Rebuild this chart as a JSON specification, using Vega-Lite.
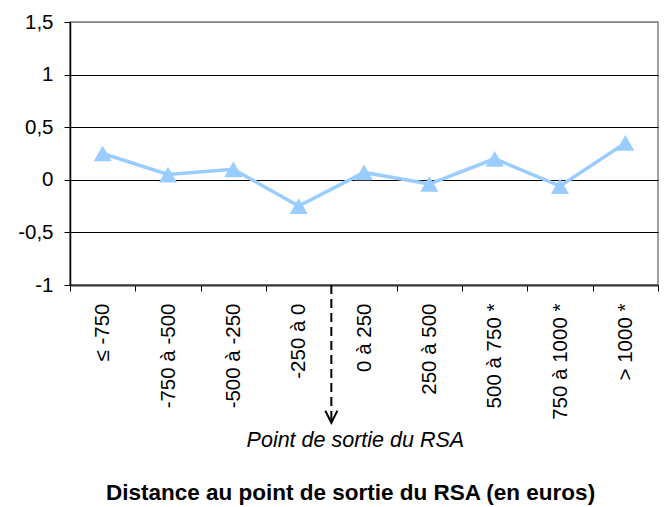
{
  "$schema": "https://vega.github.io/schema/vega-lite/v6.json",
  "autosize": {"type": "none"},
  "width": 588,
  "height": 263,
  "padding": {"left": 70, "top": 22, "right": 7, "bottom": 222},
  "background": "white",
  "config": {
    "view": {"stroke": "#808080", "strokeWidth": 1.5},
    "font": "Liberation Sans",
    "axis": {"labelFont": "Liberation Sans", "labelColor": "black", "tickColor": "black", "tickSize": 6, "titleFont": "Liberation Sans", "titleColor": "black"},
    "axisX": {"labelFontSize": 20.5, "labelPadding": 12, "labelAngle": 270, "domainColor": "#333333", "domainWidth": 2, "grid": false, "labelOverlap": false, "tickBand": "extent"},
    "axisY": {"labelFontSize": 20.5, "labelPadding": 11, "domainColor": "black", "domainWidth": 1.5, "grid": true, "gridWidth": 1.2, "gridColor": "black"}
  },
  "datasets": {
    "pts": [
      {"cat": "≤ -750", "val": 0.25},
      {"cat": "-750 à -500", "val": 0.05},
      {"cat": "-500 à -250", "val": 0.10},
      {"cat": "-250 à 0", "val": -0.25},
      {"cat": "0 à 250", "val": 0.07},
      {"cat": "250 à 500", "val": -0.04},
      {"cat": "500 à 750 *", "val": 0.20},
      {"cat": "750 à 1000 *", "val": -0.06},
      {"cat": "> 1000 *", "val": 0.35}
    ],
    "arrow": [
      {"cat": "0 à 250", "y1": -1, "y2": -2.31, "ty": -2.48, "label": "Point de sortie du RSA"}
    ]
  },
  "layer": [
    {
      "data": {"name": "pts"},
      "mark": {
        "type": "line",
        "color": "#99ccff",
        "strokeWidth": 3.5,
        "point": {"shape": "triangle-up", "size": 330, "filled": true, "color": "#99ccff", "opacity": 1}
      },
      "encoding": {
        "x": {
          "field": "cat",
          "type": "nominal",
          "sort": null,
          "scale": {
            "type": "band",
            "paddingInner": 0,
            "paddingOuter": 0,
            "domain": ["≤ -750", "-750 à -500", "-500 à -250", "-250 à 0", "0 à 250", "250 à 500", "500 à 750 *", "750 à 1000 *", "> 1000 *"]
          },
          "axis": {
            "title": "Distance au point de sortie du RSA (en euros)",
            "titleFontSize": 22.5,
            "titleFontWeight": "bold",
            "titleX": 280,
            "titleY": 214,
            "titleAlign": "center",
            "titleBaseline": "alphabetic"
          }
        },
        "y": {
          "field": "val",
          "type": "quantitative",
          "scale": {"domain": [-1, 1.5], "nice": false, "zero": false},
          "axis": {
            "title": null,
            "values": [-1, -0.5, 0, 0.5, 1, 1.5],
            "labelExpr": "replace(toString(datum.value), '.', ',')",
            "gridColor": {"condition": {"test": "datum.value == 1.5", "value": "#808080"}, "value": "black"}
          }
        }
      }
    },
    {
      "data": {"name": "arrow"},
      "mark": {"type": "rule", "strokeDash": [9, 5], "strokeWidth": 2, "color": "black", "clip": false},
      "encoding": {
        "x": {"field": "cat", "type": "nominal", "bandPosition": 0},
        "y": {"field": "y1", "type": "quantitative"},
        "y2": {"field": "y2"}
      }
    },
    {
      "data": {"name": "arrow"},
      "mark": {"type": "point", "shape": "M-1,-2L0,0L1,-2", "size": 144, "filled": false, "stroke": "black", "strokeWidth": 2, "opacity": 1, "clip": false},
      "encoding": {
        "x": {"field": "cat", "type": "nominal", "bandPosition": 0},
        "y": {"field": "y2", "type": "quantitative"}
      }
    },
    {
      "data": {"name": "arrow"},
      "mark": {"type": "text", "fontStyle": "italic", "fontSize": 21.5, "font": "Liberation Sans", "color": "black", "align": "center", "baseline": "middle", "dx": 24, "clip": false},
      "encoding": {
        "x": {"field": "cat", "type": "nominal", "bandPosition": 0},
        "y": {"field": "ty", "type": "quantitative"},
        "text": {"field": "label"}
      }
    }
  ]
}
